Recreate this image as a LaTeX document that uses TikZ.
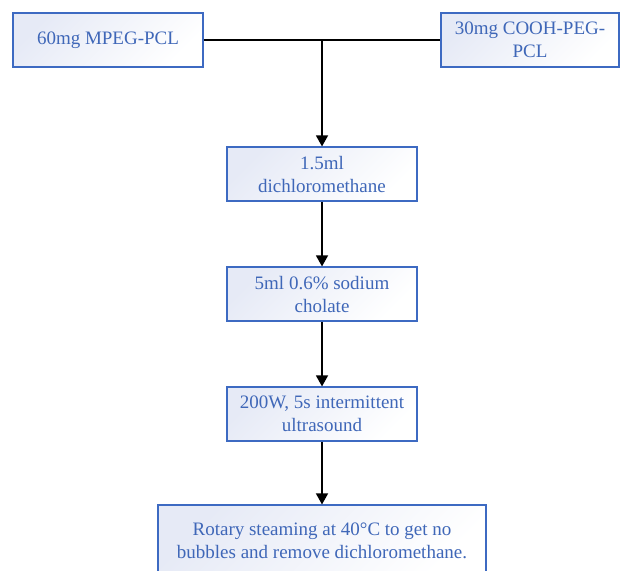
\documentclass[tikz,border=0pt]{standalone}
\usepackage{fontspec}
\setmainfont{Liberation Serif}
\usetikzlibrary{arrows.meta}
\definecolor{boxblue}{HTML}{3D6AC2}
\definecolor{textblue}{HTML}{3F67B8}
\definecolor{boxshade}{HTML}{E6EAF6}
\tikzset{stepbox/.style={left color=boxshade, right color=white, shading angle=45, draw=boxblue, line width=1.15pt, text=textblue, align=center, inner sep=0pt, minimum height=54pt, font=\fontsize{19}{23}\selectfont},
	flow/.style={line width=1.4pt, -{Triangle[length=11pt,width=12pt]}}}

\begin{document}
\begin{tikzpicture}[x=1pt, y=-1pt]
		\useasboundingbox (0,0) rectangle (620,570);
		% starting materials
		\node[stepbox, minimum width=190pt] (mpeg) at (108,40) {60mg MPEG-PCL};
		\node[stepbox, minimum width=178pt] (cooh) at (530,40) {30mg COOH-PEG-\\PCL};
		\coordinate (join) at (322,40);
		
		% steps
		\node[stepbox, minimum width=190pt] (dcm) at (322,174) {1.5ml\\dichloromethane};
		\node[stepbox, minimum width=190pt] (chol) at (322,294) {5ml 0.6\% sodium\\cholate};
		\node[stepbox, minimum width=190pt] (ultra) at (322,414) {200W, 5s intermittent\\ultrasound};
		\node[stepbox, minimum width=328pt, minimum height=72pt] (rot) at (322,541) {Rotary steaming at 40°C to get no\\bubbles and remove dichloromethane.};
		
		\draw[line width=1.4pt] (mpeg.east) -- (cooh.west);
		\draw[flow] (join) -- (dcm);
		\draw[flow] (dcm) -- (chol);
		\draw[flow] (chol) -- (ultra);
		\draw[flow] (ultra) -- (rot);
	\end{tikzpicture}
\end{document}
